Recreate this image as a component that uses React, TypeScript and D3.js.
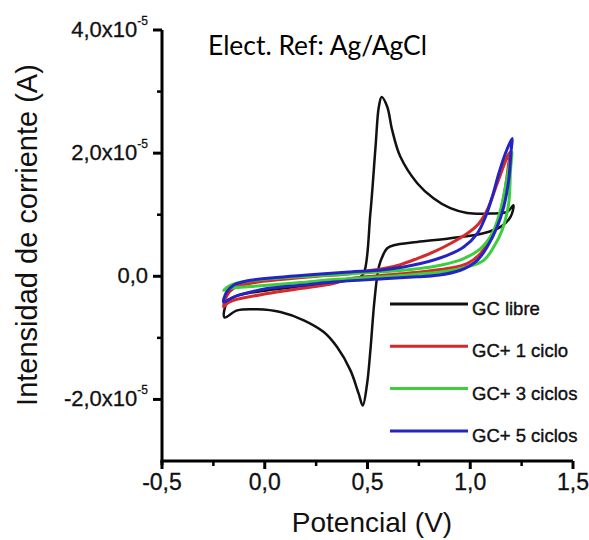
import React from "react";
import * as d3 from "d3";

const WIDTH = 589;
const HEIGHT = 540;

// voltamogramas: [potencial (V), corriente (x1e-5 A)], recorrido cerrado
const gcLibre: [number, number][] = [
  [-0.196, -0.667], [-0.186, -0.44], [-0.143, -0.325], [-0.021, -0.244], [0.174, -0.163],
  [0.368, -0.081], [0.456, -0.033], [0.482, 0.049], [0.514, 1.024], [0.539, 2.098],
  [0.555, 2.748], [0.569, 2.911], [0.596, 2.753], [0.62, 2.374], [0.66, 1.94],
  [0.742, 1.512], [0.821, 1.268], [0.903, 1.106], [0.985, 1.029], [1.098, 1.02],
  [1.18, 1.046], [1.21, 1.154], [1.196, 0.964], [1.147, 0.802], [1.064, 0.699],
  [0.904, 0.618], [0.742, 0.558], [0.628, 0.504], [0.596, 0.455], [0.579, 0.369],
  [0.555, 0.151], [0.534, -0.39], [0.514, -1.203], [0.498, -1.745], [0.477, -2.098],
  [0.457, -1.907], [0.417, -1.528], [0.352, -1.15], [0.287, -0.906], [0.19, -0.715],
  [0.076, -0.58], [-0.037, -0.537], [-0.134, -0.553],
];

const gc1Ciclo: [number, number][] = [
  [-0.2, -0.499], [-0.186, -0.325], [-0.152, -0.195], [-0.07, -0.114], [0.091, -0.049],
  [0.255, 0.0], [0.417, 0.041], [0.498, 0.086], [0.579, 0.125], [0.66, 0.19],
  [0.742, 0.288], [0.822, 0.395], [0.904, 0.532], [0.985, 0.694], [1.04, 0.85],
  [1.082, 1.073], [1.131, 1.507], [1.18, 1.94], [1.193, 2.016], [1.187, 1.833],
  [1.163, 1.289], [1.131, 0.857], [1.082, 0.532], [1.05, 0.369], [0.985, 0.207],
  [0.888, 0.125], [0.758, 0.07], [0.578, 0.016], [0.417, -0.037], [0.334, -0.119],
  [0.174, -0.2], [0.012, -0.281], [-0.152, -0.39], [-0.186, -0.447],
];

const gc3Ciclos: [number, number][] = [
  [-0.2, -0.228], [-0.167, -0.146], [-0.118, -0.098], [-0.07, -0.073], [0.091, -0.024],
  [0.255, 0.008], [0.417, 0.041], [0.578, 0.073], [0.742, 0.122], [0.855, 0.179],
  [0.968, 0.288], [1.05, 0.45], [1.107, 0.694], [1.147, 1.073], [1.18, 1.615],
  [1.203, 2.016], [1.196, 1.724], [1.187, 1.182], [1.155, 0.748], [1.114, 0.476],
  [1.066, 0.26], [0.985, 0.151], [0.855, 0.07], [0.742, 0.033], [0.578, -0.008],
  [0.334, -0.054], [0.174, -0.102], [0.012, -0.146], [-0.118, -0.179], [-0.167, -0.195],
];

const gc5Ciclos: [number, number][] = [
  [-0.2, -0.418], [-0.186, -0.26], [-0.152, -0.146], [-0.07, -0.065], [0.091, -0.011],
  [0.255, 0.033], [0.417, 0.07], [0.578, 0.106], [0.758, 0.207], [0.888, 0.341],
  [0.968, 0.476], [1.034, 0.694], [1.074, 0.964], [1.107, 1.289], [1.139, 1.67],
  [1.171, 1.995], [1.204, 2.239], [1.199, 2.049], [1.187, 1.561], [1.163, 1.127],
  [1.131, 0.802], [1.082, 0.476], [1.034, 0.26], [0.952, 0.098], [0.839, 0.016],
  [0.742, -0.008], [0.578, -0.041], [0.334, -0.093], [0.174, -0.146], [0.012, -0.2],
  [-0.152, -0.337],
];

const seriesData = [gcLibre, gc1Ciclo, gc3Ciclos, gc5Ciclos];
const seriesNames = ["GC libre", "GC+ 1 ciclo", "GC+ 3 ciclos", "GC+ 5 ciclos"];
const seriesColors = ["#111111", "#d42a2a", "#3ccf3c", "#2424c4"];

const xTicks = [-0.5, 0, 0.5, 1.0, 1.5];
const xTickLabels = ["-0,5", "0,0", "0,5", "1,0", "1,5"];
const xMinorTicks = [-0.25, 0.25, 0.75, 1.25];
const yTicks = [-2, 0, 2, 4];
const yTickLabels = ["-2,0x10", "0,0", "2,0x10", "4,0x10"];
const yMinorTicks = [-1, 1, 3];

const FONT = "'Liberation Sans', Arial, sans-serif";

export default function App() {
  const margin = { top: 30, right: 16, bottom: 79, left: 162 };

  const x = d3.scaleLinear().domain([-0.5, 1.5]).range([margin.left, WIDTH - margin.right]);
  const y = d3.scaleLinear().domain([-3, 4]).range([HEIGHT - margin.bottom, margin.top]);

  const line = d3
    .line<[number, number]>()
    .x((d) => x(d[0]))
    .y((d) => y(d[1]))
    .curve(d3.curveCatmullRomClosed.alpha(0.5));

  const x0 = x(-0.5);
  const yBase = y(-3);

  return (
    <svg
      width={WIDTH}
      height={HEIGHT}
      style={{ position: "absolute", left: 0, top: 0, background: "#fff" }}
      fontFamily={FONT}
    >
      <rect width={WIDTH} height={HEIGHT} fill="#fff" />

      {/* curvas */}
      {seriesData.map((d, i) => (
        <path key={i} d={line(d) || ""} fill="none" stroke={seriesColors[i]}
          strokeWidth={i === 0 ? 2.5 : 3} strokeLinejoin="round" />
      ))}

      {/* eje y */}
      <line x1={x0} x2={x0} y1={y(4)} y2={yBase + 4} stroke="#000" strokeWidth={3} />
      {yTicks.map((t) => (
        <line key={"yt" + t} x1={x0 - 9} x2={x0} y1={y(t)} y2={y(t)} stroke="#000" strokeWidth={3} />
      ))}
      {yMinorTicks.map((t) => (
        <line key={"ym" + t} x1={x0 - 5} x2={x0} y1={y(t)} y2={y(t)} stroke="#000" strokeWidth={2.5} />
      ))}
      {yTicks.map((t, i) => (
        <text key={"yl" + t} x={148} y={y(t) + 7} textAnchor="end" fontSize={22} fill="#111"
          stroke="#111" strokeWidth={0.3}>
          <tspan>{yTickLabels[i]}</tspan>
          {t !== 0 && (
            <tspan dy={-12} fontSize={12}>-5</tspan>
          )}
        </text>
      ))}

      {/* eje x */}
      <line x1={x0 - 1.5} x2={x(1.5)} y1={yBase} y2={yBase} stroke="#000" strokeWidth={3} />
      {xTicks.map((t) => (
        <line key={"xt" + t} x1={x(t)} x2={x(t)} y1={yBase} y2={yBase + 8} stroke="#000" strokeWidth={3} />
      ))}
      {xMinorTicks.map((t) => (
        <line key={"xm" + t} x1={x(t)} x2={x(t)} y1={yBase} y2={yBase + 5} stroke="#000" strokeWidth={2.5} />
      ))}
      {xTicks.map((t, i) => (
        <text key={"xl" + t} x={x(t)} y={yBase + 29} textAnchor="middle" fontSize={23} fill="#111"
          stroke="#111" strokeWidth={0.3}>
          {xTickLabels[i]}
        </text>
      ))}

      {/* titulos */}
      <text x={372} y={532} textAnchor="middle" fontSize={28} fill="#111">Potencial (V)</text>
      <text transform="translate(37,235) rotate(-90)" textAnchor="middle" fontSize={29} fill="#111">
        Intensidad de corriente (A)
      </text>

      <text x={208} y={55} fontFamily="Lato, 'Open Sans', sans-serif" fontSize={27} fill="#000"
        textLength={219} lengthAdjust="spacingAndGlyphs">
        Elect. Ref: Ag/AgCl
      </text>

      {/* leyenda */}
      {seriesNames.map((name, i) => {
        const ly = 304 + i * 42.3;
        return (
          <g key={name}>
            <line x1={390} x2={468} y1={ly} y2={ly} stroke={seriesColors[i]} strokeWidth={3} />
            <text x={472} y={ly + 11} fontSize={18.5} fill="#111" stroke="#111" strokeWidth={0.4}>
              {name}
            </text>
          </g>
        );
      })}
    </svg>
  );
}
